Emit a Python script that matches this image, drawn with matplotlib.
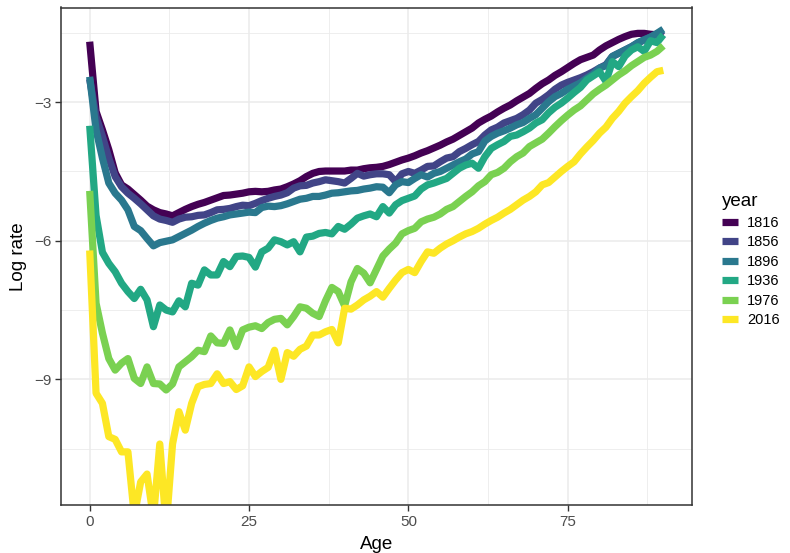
import matplotlib
matplotlib.use("Agg")
import matplotlib.pyplot as plt
from matplotlib.lines import Line2D

plt.rcParams['font.family'] = ['Liberation Sans', 'DejaVu Sans']

ages = list(range(0, 91))
years = ['1816', '1856', '1896', '1936', '1976', '2016']
colors = ['#440154', '#414487', '#2A788E', '#22A884', '#7AD151', '#FDE725']

# log mortality rates, ages 0..90
rate_1816 = [-1.69, -3.20, -3.60, -4.03, -4.53, -4.79, -4.88, -5.00, -5.12, -5.25,
             -5.33, -5.39, -5.42, -5.46, -5.39, -5.32, -5.26, -5.21, -5.17, -5.12,
             -5.07, -5.02, -5.01, -4.99, -4.97, -4.94, -4.93, -4.94, -4.93, -4.90,
             -4.88, -4.83, -4.77, -4.70, -4.61, -4.54, -4.50, -4.49, -4.49, -4.49,
             -4.49, -4.47, -4.47, -4.44, -4.42, -4.41, -4.39, -4.35, -4.30, -4.25,
             -4.21, -4.16, -4.10, -4.05, -3.99, -3.93, -3.86, -3.80, -3.72, -3.64,
             -3.56, -3.45, -3.37, -3.30, -3.21, -3.13, -3.06, -2.97, -2.89, -2.81,
             -2.70, -2.60, -2.52, -2.42, -2.34, -2.25, -2.16, -2.08, -2.03, -1.98,
             -1.87, -1.78, -1.71, -1.64, -1.58, -1.53, -1.51, -1.51, -1.53, -1.54,
             -1.51]
rate_1856 = [-2.50, -3.31, -3.74, -4.21, -4.61, -4.83, -4.97, -5.08, -5.20, -5.33,
             -5.46, -5.53, -5.56, -5.60, -5.53, -5.49, -5.48, -5.45, -5.44, -5.39,
             -5.33, -5.32, -5.30, -5.26, -5.23, -5.24, -5.19, -5.13, -5.08, -5.04,
             -5.01, -4.96, -4.86, -4.81, -4.80, -4.75, -4.72, -4.68, -4.70, -4.72,
             -4.75, -4.65, -4.54, -4.60, -4.57, -4.55, -4.55, -4.57, -4.72, -4.55,
             -4.50, -4.54, -4.47, -4.39, -4.38, -4.29, -4.21, -4.18, -4.07, -4.00,
             -3.92, -3.85, -3.71, -3.60, -3.54, -3.45, -3.40, -3.35, -3.27, -3.17,
             -3.02, -2.94, -2.84, -2.72, -2.63, -2.57, -2.52, -2.47, -2.41, -2.34,
             -2.26, -2.19, -2.01, -1.94, -1.87, -1.80, -1.72, -1.65, -1.59, -1.52,
             -1.45]
rate_1896 = [-2.45, -3.60, -4.21, -4.75, -4.97, -5.12, -5.33, -5.69, -5.78, -5.95,
             -6.11, -6.04, -6.01, -5.98, -5.91, -5.84, -5.77, -5.69, -5.62, -5.56,
             -5.51, -5.48, -5.44, -5.42, -5.40, -5.38, -5.39, -5.28, -5.25, -5.26,
             -5.24, -5.20, -5.15, -5.10, -5.08, -5.04, -5.04, -5.01, -4.97, -4.96,
             -4.94, -4.92, -4.91, -4.88, -4.86, -4.83, -4.84, -4.96, -4.79, -4.72,
             -4.74, -4.65, -4.57, -4.62, -4.54, -4.50, -4.43, -4.36, -4.29, -4.23,
             -4.12, -4.07, -3.84, -3.74, -3.67, -3.62, -3.56, -3.49, -3.44, -3.35,
             -3.27, -3.13, -2.99, -2.88, -2.81, -2.72, -2.65, -2.58, -2.48, -2.39,
             -2.26, -2.21, -2.01, -1.94, -1.87, -1.80, -1.71, -1.65, -1.59, -1.51,
             -1.42]
rate_1936 = [-3.51, -5.45, -6.25, -6.49, -6.67, -6.92, -7.10, -7.25, -7.05, -7.28,
             -7.86, -7.39, -7.50, -7.54, -7.30, -7.43, -6.92, -6.96, -6.63, -6.74,
             -6.74, -6.45, -6.56, -6.34, -6.33, -6.36, -6.57, -6.24, -6.16, -5.98,
             -6.02, -6.09, -6.02, -6.24, -5.92, -5.90, -5.84, -5.82, -5.85, -5.69,
             -5.75, -5.64, -5.51, -5.46, -5.42, -5.48, -5.26, -5.40, -5.22, -5.13,
             -5.08, -5.03, -4.88, -4.79, -4.75, -4.70, -4.65, -4.54, -4.43, -4.36,
             -4.32, -4.43, -4.18, -4.00, -3.92, -3.85, -3.74, -3.71, -3.64, -3.56,
             -3.45, -3.38, -3.23, -3.11, -3.02, -2.91, -2.79, -2.68, -2.52, -2.43,
             -2.34, -2.55, -2.12, -2.23, -2.00, -1.87, -1.80, -1.90, -1.67, -1.71,
             -1.54]
rate_1976 = [-4.92, -7.35, -8.00, -8.55, -8.80, -8.65, -8.55, -8.98, -9.09, -8.73,
             -9.09, -9.10, -9.23, -9.10, -8.73, -8.62, -8.51, -8.37, -8.40, -8.06,
             -8.21, -8.22, -7.93, -8.29, -7.93, -7.87, -7.84, -7.90, -7.77, -7.70,
             -7.68, -7.82, -7.64, -7.43, -7.46, -7.57, -7.64, -7.30, -7.01, -7.10,
             -7.41, -6.89, -6.60, -6.70, -6.91, -6.62, -6.33, -6.18, -6.05, -5.85,
             -5.78, -5.73, -5.59, -5.53, -5.49, -5.42, -5.32, -5.26, -5.15, -5.04,
             -4.94, -4.81, -4.72, -4.57, -4.52, -4.43, -4.29, -4.18, -4.10, -3.96,
             -3.88, -3.80, -3.67, -3.53, -3.40, -3.28, -3.17, -3.08, -2.95, -2.82,
             -2.72, -2.63, -2.52, -2.41, -2.32, -2.21, -2.12, -2.03, -1.98, -1.90,
             -1.78]
rate_2016 = [-6.21, -9.30, -9.52, -10.24, -10.30, -10.57, -10.57, -11.95, -11.22, -11.05,
             -12.00, -10.40, -12.20, -10.40, -9.70, -10.10, -9.52, -9.16, -9.11, -9.09,
             -8.88, -9.09, -9.05, -9.22, -9.14, -8.73, -8.94, -8.83, -8.74, -8.37,
             -9.00, -8.42, -8.50, -8.35, -8.28, -8.04, -8.04, -7.97, -7.92, -8.21,
             -7.46, -7.48, -7.39, -7.28, -7.20, -7.10, -7.22, -7.03, -6.85, -6.69,
             -6.62, -6.69, -6.45, -6.24, -6.27, -6.16, -6.07, -6.00, -5.92, -5.85,
             -5.80, -5.73, -5.64, -5.56, -5.49, -5.40, -5.32, -5.22, -5.12, -5.04,
             -4.94, -4.79, -4.74, -4.62, -4.50, -4.39, -4.29, -4.12, -3.97, -3.83,
             -3.67, -3.54, -3.35, -3.20, -3.02, -2.88, -2.75, -2.59, -2.46, -2.34,
             -2.31]

series = [rate_1816, rate_1856, rate_1896, rate_1936, rate_1976, rate_2016]

fig = plt.figure(figsize=(7.9, 5.53), dpi=100)
ax = fig.add_axes([61 / 790, 48 / 553, 631 / 790, 497.5 / 553])

for vals, col in zip(series, colors):
    ax.plot(ages, vals, color=col, lw=5.2, solid_capstyle='butt', solid_joinstyle='round')

ax.set_xlim(-4.5, 94.5)
ax.set_ylim(-11.72, -0.95)
ax.set_xticks([0, 25, 50, 75])
ax.set_yticks([-3, -6, -9])
ax.set_xticks([12.5, 37.5, 62.5, 87.5], minor=True)
ax.set_yticks([-1.5, -4.5, -7.5, -10.5], minor=True)
ax.grid(which='major', color='#EBEBEB', lw=1.1)
ax.grid(which='minor', color='#EBEBEB', lw=0.6)
ax.set_axisbelow(True)
ax.tick_params(which='minor', length=0)
ax.tick_params(which='major', length=4, width=1, color='#333333',
               labelsize=11, labelcolor='#4D4D4D', pad=3)
for sp in ax.spines.values():
    sp.set_color('#333333')
    sp.set_linewidth(1.1)

ax.set_xlabel('Age', fontsize=13.5, labelpad=5)
ax.set_ylabel('Log rate', fontsize=13.5, labelpad=5)

handles = [Line2D([], [], color=c, lw=5.2, solid_capstyle='butt') for c in colors]
fig.legend(handles, years, title='year', loc='upper left',
           bbox_to_anchor=(709 / 790, 1 - 180 / 553), frameon=False,
           fontsize=10.5, title_fontsize=13.5, handlelength=1.1,
           handletextpad=0.6, labelspacing=0.38, alignment='left')

fig.savefig('out.png', dpi=100)
